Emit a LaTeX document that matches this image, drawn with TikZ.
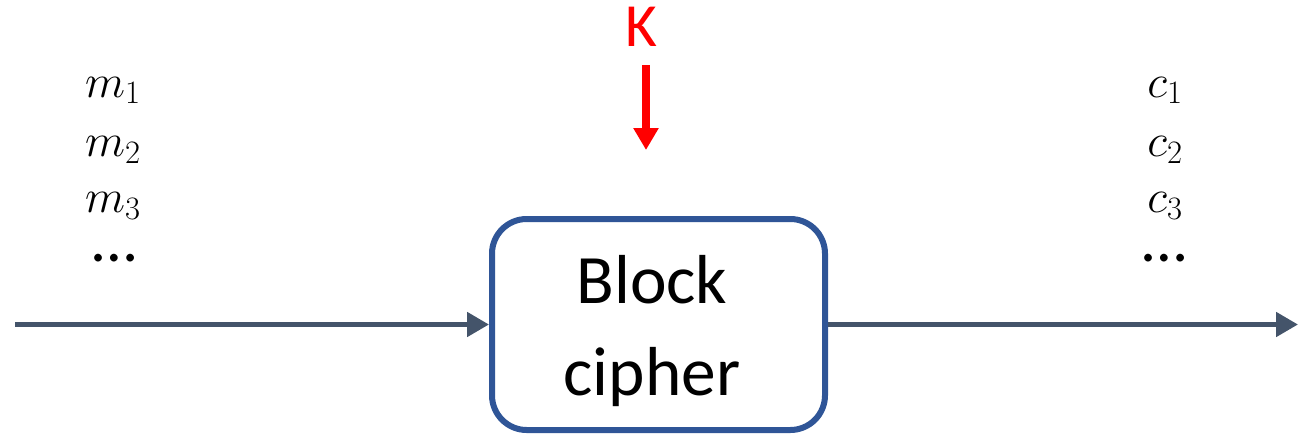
\RequirePackage{fix-cm}
\documentclass[tikz,border=0pt]{standalone}
\usepackage{amsmath}
\usepackage{fontspec}
\setmainfont{Carlito}
\usepackage{tikz}
\usetikzlibrary{arrows.meta}

\begin{document}
\begin{tikzpicture}[x=0.75pt,y=0.75pt,yscale=-1,xscale=1,
    flow/.style={draw={rgb,255:red,68;green,84;blue,106},line width=3.75pt,-{Triangle[length=16.5pt,width=18pt]}},
    keyarrow/.style={draw={rgb,255:red,255;green,0;blue,0},line width=6pt,-{Triangle[length=16.5pt,width=18pt]}},
    msg/.style={anchor=base,inner sep=0pt,font=\fontsize{35}{40}\selectfont},
    gap/.style={anchor=base,inner sep=0pt,text height=5pt,text depth=0pt,font=\fontsize{48}{50}\selectfont}]
    %set diagram left start at 0, and has height of 435
    \useasboundingbox (0,0) rectangle (1298,435);

    %Shape: Rounded Rect [id:cipher]
    \node [draw={rgb,255:red,47;green,85;blue,151},line width=4.5pt,rounded corners=26pt,fill=white,
           minimum width=249.75pt,minimum height=158.25pt] (cipher) at (658.5,324.5) {};
    % Text Node
    \node [align=center,inner sep=0pt,font=\fontsize{52}{69}\selectfont] (ciphertext) at (652,331) {Block\\cipher};

    % Text Node
    \node [anchor=base,inner sep=0pt,text={rgb,255:red,255;green,0;blue,0},font=\fontsize{46}{50}\selectfont] (K) at (641,47) {K};
    \coordinate (keyin) at (646,150);
    %Straight Lines [id:key]
    \draw [keyarrow,shorten <=13.5pt] (K.south -| keyin) -- (keyin);

    %Straight Lines [id:in]
    \coordinate (src) at (15,324.5);
    \draw [flow] (src) -- (cipher.west);
    %Straight Lines [id:out]
    \coordinate (sink) at (1298,324.5);
    \draw [flow] (cipher.east) -- (sink);

    % Text Node
    \node [msg] (m1) at (113,97) {$m_1$};
    \node [msg] (m2) at (113,156) {$m_2$};
    \node [msg] (m3) at (113,212) {$m_3$};
    \node [gap] (mdots) at (115,261) {…};
    % Text Node
    \node [msg] (c1) at (1165,97) {$c_1$};
    \node [msg] (c2) at (1165,156) {$c_2$};
    \node [msg] (c3) at (1165,212) {$c_3$};
    \node [gap] (cdots) at (1165,261) {…};

\end{tikzpicture}
\end{document}
